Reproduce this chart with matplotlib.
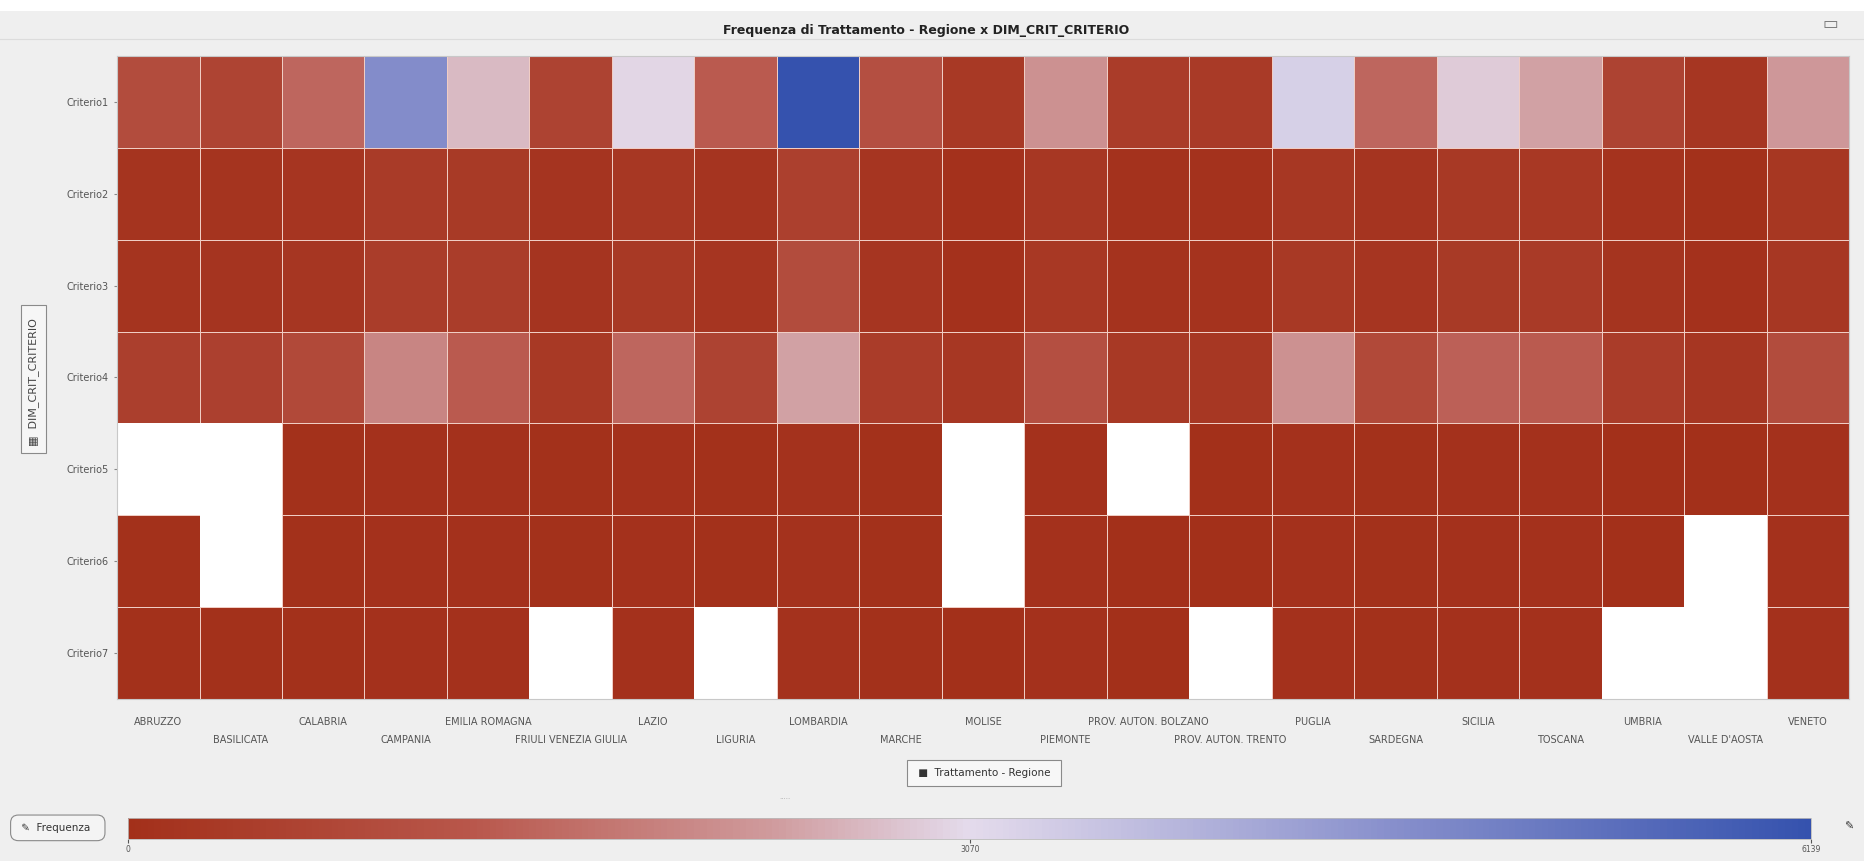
import numpy as np
import matplotlib
matplotlib.use("Agg")
import matplotlib.pyplot as plt
from matplotlib.colors import LinearSegmentedColormap

# data
regioni = ['ABRUZZO', 'BASILICATA', 'CALABRIA', 'CAMPANIA', 'EMILIA ROMAGNA',
           'FRIULI VENEZIA GIULIA', 'LAZIO', 'LIGURIA', 'LOMBARDIA', 'MARCHE',
           'MOLISE', 'PIEMONTE', 'PROV. AUTON. BOLZANO', 'PROV. AUTON. TRENTO',
           'PUGLIA', 'SARDEGNA', 'SICILIA', 'TOSCANA', 'UMBRIA',
           "VALLE D'AOSTA", 'VENETO']
criteri = ['Criterio1', 'Criterio2', 'Criterio3', 'Criterio4',
           'Criterio5', 'Criterio6', 'Criterio7']
nan = np.nan
criterio1 = [900, 650, 1500, 4700, 2700, 600, 3000, 1300, 6139, 1000, 300,
             2200, 400, 350, 3300, 1500, 2900, 2400, 600, 200, 2300]
criterio2 = [120, 140, 180, 380, 320, 150, 260, 150, 520, 170, 60,
             250, 90, 90, 260, 160, 300, 280, 110, 40, 220]
criterio3 = [130, 150, 200, 420, 420, 160, 300, 170, 900, 190, 70,
             280, 100, 100, 300, 180, 330, 340, 120, 50, 250]
criterio4 = [500, 550, 800, 2000, 1300, 300, 1500, 600, 2400, 400, 250,
             1000, 300, 250, 2200, 800, 1400, 1300, 400, 200, 900]
criterio5 = [nan, nan, 40, 60, 50, 30, 60, 30, 80, 40, nan,
             50, nan, 20, 50, 30, 60, 50, 20, 10, 50]
criterio6 = [30, nan, 40, 60, 50, 30, 60, 30, 80, 40, nan,
             50, 20, 20, 50, 30, 60, 50, 20, nan, 50]
criterio7 = [30, 30, 40, 60, 50, nan, 60, nan, 80, 40, 10,
             50, 20, nan, 50, 30, 60, 50, nan, nan, 50]
vmin, vmid, vmax = 0, 3070, 6139

valori = np.ma.masked_invalid(np.array([criterio1, criterio2, criterio3, criterio4,
                                        criterio5, criterio6, criterio7], dtype=float))

cmap = LinearSegmentedColormap.from_list('freq', [
    (0.0, '#a3301a'), (0.2, '#b8564a'), (0.38, '#cf9a9c'),
    (0.5, '#e4dbec'), (0.75, '#8890cc'), (1.0, '#3552ae')])
cmap.set_bad('white')

bg = '#efefef'
fig = plt.figure(figsize=(18.64, 8.61), dpi=100, facecolor=bg)

# top white strip and separator
fig.patches.append(plt.Rectangle((0, 0.987), 1, 0.013, transform=fig.transFigure,
                                 facecolor='white', edgecolor='none'))
fig.add_artist(plt.Line2D([0, 1], [0.955, 0.955], color='#dcdcdc', lw=0.8))

ax = fig.add_axes([0.0628, 0.1882, 0.9292, 0.7468])
ax.set_facecolor('white')
mesh = ax.pcolormesh(np.arange(len(regioni) + 1), np.arange(len(criteri) + 1), valori,
                     cmap=cmap, vmin=vmin, vmax=vmax, linewidth=0.6)
mesh.set_edgecolors(np.where(valori.mask.ravel(), 'white', '#f0cdc4'))
ax.set_xlim(0, len(regioni))
ax.set_ylim(len(criteri), 0)
for s in ax.spines.values():
    s.set_color('#c8c8c8')
    s.set_linewidth(0.8)

ax.set_yticks(np.arange(len(criteri)) + 0.5)
ax.set_yticklabels(criteri, fontsize=7, color='#555555')
ax.tick_params(axis='y', length=2, pad=4, color='#888888')
ax.set_xticks(np.arange(len(regioni)) + 0.5)
ax.set_xticklabels([])
ax.tick_params(axis='x', length=0)

# staggered region labels
for i, r in enumerate(regioni):
    y = -0.036 if i % 2 == 0 else -0.064
    ax.text(i + 0.5, y, r, transform=ax.get_xaxis_transform(), ha='center', va='center',
            fontsize=7, color='#555555')

fig.text(0.497, 0.965, 'Frequenza di Trattamento - Regione x DIM_CRIT_CRITERIO',
         ha='center', va='center', fontsize=9, fontweight='bold', color='#222222')

# y axis title box
fig.text(0.018, 0.56, '\u25a6  DIM_CRIT_CRITERIO  ', rotation=90, ha='center', va='center',
         fontsize=8, color='#444444',
         bbox=dict(boxstyle='square,pad=0.6', facecolor='#f6f6f6', edgecolor='#8a8a8a', lw=0.8))

# legend button
fig.text(0.528, 0.102, ' \u25a0  Trattamento - Regione ', ha='center', va='center',
         fontsize=7.5, color='#333333',
         bbox=dict(boxstyle='square,pad=0.75', facecolor='#f7f7f7', edgecolor='#8a8a8a', lw=0.8))

# colorbar
cax = fig.add_axes([0.0687, 0.0256, 0.903, 0.0244])
cb = fig.colorbar(mesh, cax=cax, orientation='horizontal', ticks=[vmin, vmid, vmax])
cb.ax.set_xticklabels([str(vmin), str(vmid), str(vmax)])
cb.ax.tick_params(labelsize=5.5, length=3, pad=1, colors='#555555')
cb.outline.set_edgecolor('#bbbbbb')
cb.outline.set_linewidth(0.6)

fig.text(0.031, 0.0385, ' \u270e  Frequenza  ', ha='center', va='center', fontsize=7.5,
         color='#333333',
         bbox=dict(boxstyle='round,pad=0.75', facecolor='#f4f4f4', edgecolor='#8a8a8a', lw=0.8))
fig.text(0.992, 0.04, '\u270e', ha='center', va='center', fontsize=8, color='#333333')

# top-right icon
fig.text(0.982, 0.972, '\u25ad', ha='center', va='center', fontsize=12, color='#777777')
fig.text(0.421, 0.074, '.....', ha='center', va='center', fontsize=5, color='#aaaaaa')

fig.savefig('out.png', dpi=100, facecolor=bg)
